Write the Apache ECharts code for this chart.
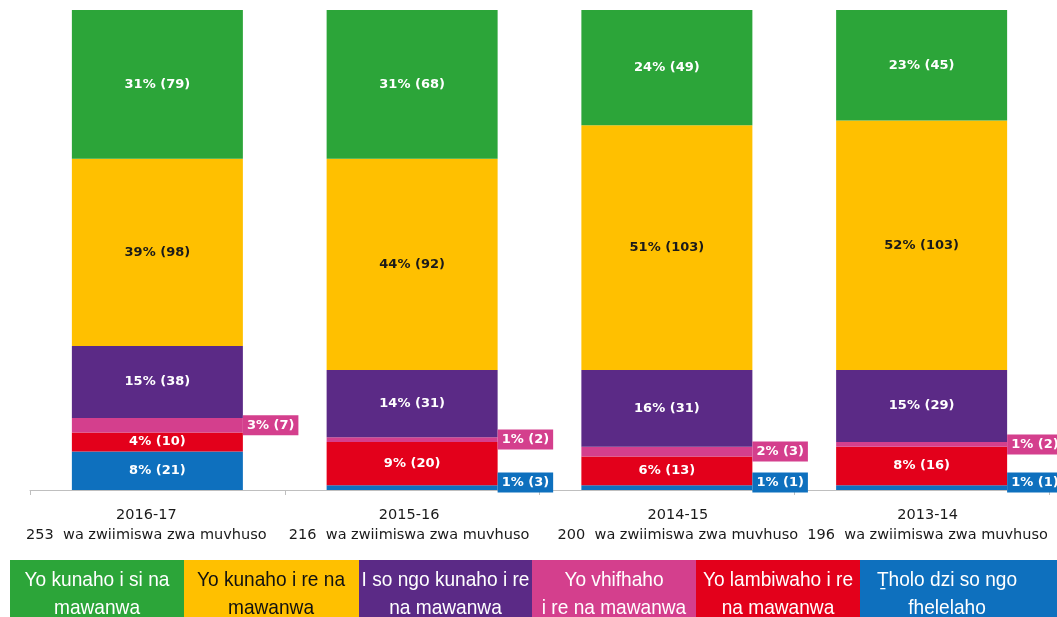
<!DOCTYPE html>
<html><head><meta charset="utf-8">
<script src="https://cdn.jsdelivr.net/npm/echarts@6/dist/echarts.min.js"></script>
<style>html,body{margin:0;padding:0;background:#fff}#c{width:1057px;height:617px}</style>
</head><body><div id="c"></div>
<script>
// ---- data ----
const categories = ['2016-17', '2015-16', '2014-15', '2013-14'];
const schoolTotals = [253, 216, 200, 196];
const tickSuffix = 'wa zwiimiswa zwa muvhuso';

// series listed bottom to top of the stack
const seriesNames = [
  'Ṯholo dzi so ngo fhelelaho',
  'Yo lambiwaho i re na mawanwa',
  'Yo vhifhaho i re na mawanwa',
  'I so ngo kunaho i re na mawanwa',
  'Yo kunaho i re na mawanwa',
  'Yo kunaho i si na mawanwa'
];
const legendLabels = [
  'Ṯholo dzi so ngo\nfhelelaho',
  'Yo lambiwaho i re\nna mawanwa',
  'Yo vhifhaho\ni re na mawanwa',
  'I so ngo kunaho i re\nna mawanwa',
  'Yo kunaho i re na\nmawanwa',
  'Yo kunaho i si na\nmawanwa'
];
const pctNotFinal   = [8, 1, 1, 1];
const cntNotFinal   = [21, 3, 1, 1];
const pctDisclaimer = [4, 9, 6, 8];
const cntDisclaimer = [10, 20, 13, 16];
const pctAdverse    = [3, 1, 2, 1];
const cntAdverse    = [7, 2, 3, 2];
const pctQualified  = [15, 14, 16, 15];
const cntQualified  = [38, 31, 31, 29];
const pctUnqualFind = [39, 44, 51, 52];
const cntUnqualFind = [98, 92, 103, 103];
const pctClean      = [31, 31, 24, 23];
const cntClean      = [79, 68, 49, 45];

const pctSeries = [pctNotFinal, pctDisclaimer, pctAdverse, pctQualified, pctUnqualFind, pctClean];
const cntSeries = [cntNotFinal, cntDisclaimer, cntAdverse, cntQualified, cntUnqualFind, cntClean];

// ---- styles ----
const colors = ['#0e70be', '#e3001b', '#d43f8d', '#5b2a86', '#ffc000', '#2ca539'];
const insideText = ['#ffffff', '#ffffff', '#ffffff', '#ffffff', '#1a1a1a', '#ffffff'];
const legendText = ['#ffffff', '#ffffff', '#ffffff', '#ffffff', '#111111', '#ffffff'];
const labelFont = 'DejaVu Sans';
const tickLabelShift = [-11, -3, 11, 6]; // small horizontal shifts of the category labels

const chart = echarts.init(document.getElementById('c'));

const series = pctSeries.map((pcts, s) => ({
  name: seriesNames[s],
  type: 'bar',
  stack: 'all',
  barWidth: 171,
  itemStyle: { color: colors[s] },
  label: {
    show: true,
    position: 'inside',
    fontFamily: labelFont,
    fontWeight: 'bold',
    fontSize: 13,
    color: insideText[s],
    formatter: (p) => p.value + '% (' + cntSeries[s][p.dataIndex] + ')'
  },
  data: pcts.map((v) => v <= 3 ? {
    value: v,
    label: {
      position: 'right',
      distance: 0,
      backgroundColor: colors[s],
      padding: [4, 4, 3, 4],
      color: '#ffffff',
      offset: s === 0 ? [0, -5] : [0, 0]
    }
  } : v)
}));

// legend boxes (left to right = top to bottom of stack)
const legendEdges = [10, 184, 359, 532, 696, 860, 1057];
const graphics = [];
for (let k = 0; k < 6; k++) {
  const s = 5 - k;
  const x0 = legendEdges[k], x1 = legendEdges[k + 1];
  const w = x1 - x0;
  graphics.push({
    type: 'rect', left: x0, top: 560,
    shape: { width: w, height: 60 },
    style: { fill: colors[s] }
  });
  graphics.push({
    type: 'text',
    x: x0 + Math.min(w, 174) / 2, y: 594,
    scaleX: 0.91,
    style: {
      text: legendLabels[s],
      fill: legendText[s],
      font: '21px "Liberation Sans", Arial, sans-serif',
      align: 'center',
      verticalAlign: 'middle',
      lineHeight: 28
    }
  });
}

chart.setOption({
  animation: false,
  backgroundColor: '#ffffff',
  grid: { left: 30, right: 8, top: 10, bottom: 127 },
  xAxis: {
    type: 'category',
    data: categories.map((c, i) => ({
      value: c,
      textStyle: { padding: tickLabelShift[i] < 0 ? [0, -2 * tickLabelShift[i], 0, 0] : [0, 0, 0, 2 * tickLabelShift[i]] }
    })),
    axisLine: { lineStyle: { color: '#bfbfbf', width: 1 } },
    axisTick: { show: true, length: 5, lineStyle: { color: '#bfbfbf' } },
    axisLabel: {
      interval: 0,
      margin: 15,
      fontFamily: labelFont,
      fontSize: 14.5,
      lineHeight: 20,
      color: '#1a1a1a',
      formatter: (v, i) => v + '\n' + schoolTotals[i] + '  ' + tickSuffix
    }
  },
  yAxis: { type: 'value', min: 0, max: 100, show: false },
  series: series,
  graphic: graphics
});
</script></body></html>
